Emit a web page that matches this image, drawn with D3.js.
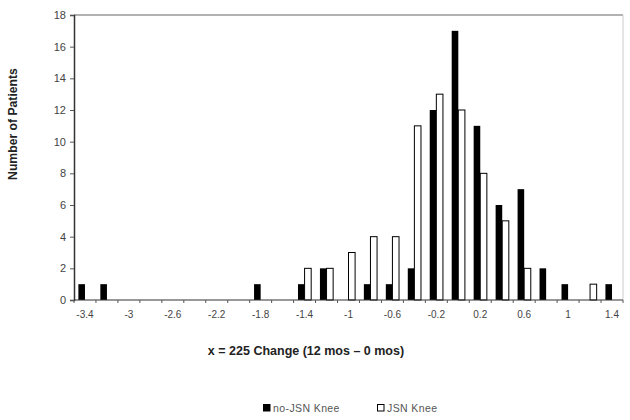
<!DOCTYPE html>
<html>
<head>
<meta charset="utf-8">
<script src="https://cdn.jsdelivr.net/npm/d3@7"></script>
<style>
  body { margin: 0; background: #fff; }
  text { font-family: "Liberation Sans", Arial, sans-serif; }
</style>
</head>
<body>
<div id="chart"></div>
<script>
// bins of x = 225 change, step 0.2
var categories = [-3.4, -3.2, -3.0, -2.8, -2.6, -2.4, -2.2, -2.0, -1.8, -1.6, -1.4, -1.2,
                  -1.0, -0.8, -0.6, -0.4, -0.2, 0.0, 0.2, 0.4, 0.6, 0.8, 1.0, 1.2, 1.4];
var noJsnKnee = [1, 1, 0, 0, 0, 0, 0, 0, 1, 0, 1, 2, 0, 1, 1, 2, 12, 17, 11, 6, 7, 2, 1, 0, 1];
var jsnKnee   = [0, 0, 0, 0, 0, 0, 0, 0, 0, 0, 2, 2, 3, 4, 4, 11, 13, 12, 8, 5, 2, 0, 0, 1, 0];
var seriesNames = ["no-JSN Knee", "JSN Knee"];
var yTicks = [0, 2, 4, 6, 8, 10, 12, 14, 16, 18];
var xTickLabels = ["-3.4", "-3", "-2.6", "-2.2", "-1.8", "-1.4", "-1", "-0.6", "-0.2", "0.2", "0.6", "1", "1.4"];

var width = 630,
    height = 420;
var margin = {left: 74, right: 7, top: 15, bottom: 120};
var plotW = width - margin.left - margin.right,
    plotH = height - margin.top - margin.bottom;

var svg = d3.select("#chart").append("svg")
    .attr("width", width)
    .attr("height", height);

var g = svg.append("g").attr("transform", "translate(" + margin.left + "," + margin.top + ")");

var x = d3.scaleBand().domain(categories).range([0, plotW]).padding(0);
var bw = x.bandwidth();
var barW = 6.6;
var x1 = d3.scaleBand().domain(seriesNames).range([bw / 2 - barW, bw / 2 + barW]);
var y = d3.scaleLinear().domain([0, 18]).range([plotH, 0]);

// plot frame (top and right in gray)
g.append("line").attr("x1", 0).attr("x2", plotW).attr("y1", 0).attr("y2", 0)
    .attr("stroke", "#999").attr("stroke-width", 1.5);
g.append("line").attr("x1", plotW).attr("x2", plotW).attr("y1", 0).attr("y2", plotH)
    .attr("stroke", "#ccc").attr("stroke-width", 1);

var rows = categories.map(function(c, i) {
    return {cat: c, values: [noJsnKnee[i], jsnKnee[i]]};
});

var groups = g.selectAll("g.bin").data(rows).enter().append("g")
    .attr("class", "bin")
    .attr("transform", function(d) { return "translate(" + x(d.cat) + ",0)"; });

groups.selectAll("rect")
    .data(function(d) { return d.values.map(function(v, k) { return {name: seriesNames[k], v: v}; }); })
    .enter().filter(function(d) { return d.v > 0; }).append("rect")
    .attr("x", function(d) { return x1(d.name); })
    .attr("width", x1.bandwidth())
    .attr("y", function(d) { return y(d.v); })
    .attr("height", function(d) { return plotH - y(d.v); })
    .attr("fill", function(d) { return d.name === "JSN Knee" ? "#fff" : "#000"; })
    .attr("stroke", "#000")
    .attr("stroke-width", function(d) { return d.name === "JSN Knee" ? 1 : 0; });

// y axis
var yAxis = g.append("g")
    .call(d3.axisLeft(y).tickValues(yTicks).tickSize(4).tickPadding(4).tickFormat(d3.format("d")));
yAxis.select(".domain").attr("stroke", "#333").attr("stroke-width", 1.5);
yAxis.selectAll(".tick line").attr("stroke", "#555");
yAxis.selectAll("text").attr("font-size", 11).attr("fill", "#444");

// x axis: ticks between bins, labels on every other bin
var xAxis = g.append("g").attr("transform", "translate(0," + plotH + ")");
xAxis.append("line").attr("x1", 0).attr("x2", plotW)
    .attr("stroke", "#333").attr("stroke-width", 1.2);
xAxis.selectAll("line.tk").data(d3.range(categories.length + 1)).enter().append("line")
    .attr("class", "tk")
    .attr("x1", function(i) { return i * x.step(); })
    .attr("x2", function(i) { return i * x.step(); })
    .attr("y1", 0).attr("y2", 3)
    .attr("stroke", "#555");
xAxis.selectAll("text").data(categories.filter(function(c, i) { return i % 2 === 0; })).enter().append("text")
    .attr("x", function(c) { return x(c) + bw / 2; })
    .attr("y", 18)
    .attr("text-anchor", "middle")
    .attr("font-size", 10)
    .attr("fill", "#444")
    .text(function(c, i) { return xTickLabels[i]; });

// titles
svg.append("text")
    .attr("transform", "translate(17," + 124 + ") rotate(-90)")
    .attr("text-anchor", "middle")
    .attr("font-size", 12.2)
    .attr("font-weight", "bold")
    .attr("fill", "#222")
    .text("Number of Patients");

svg.append("text")
    .attr("x", 306).attr("y", 355)
    .attr("text-anchor", "middle")
    .attr("font-size", 12.5)
    .attr("font-weight", "bold")
    .attr("fill", "#222")
    .text("x = 225 Change (12 mos \u2013 0 mos)");

// legend
var legendX = [263, 377];
var legend = svg.selectAll("g.legend").data(seriesNames).enter().append("g")
    .attr("class", "legend")
    .attr("transform", function(d, i) { return "translate(" + legendX[i] + ",408)"; });
legend.append("rect")
    .attr("x", 0.5).attr("y", -3.5).attr("width", 6.5).attr("height", 6.5)
    .attr("fill", function(d, i) { return i === 0 ? "#000" : "#fff"; })
    .attr("stroke", "#000").attr("stroke-width", 1);
legend.append("text")
    .attr("x", 10).attr("y", 3.5)
    .attr("font-size", 10.5)
    .attr("letter-spacing", 0.4)
    .attr("fill", "#555")
    .text(function(d) { return d; });
</script>
</body>
</html>
